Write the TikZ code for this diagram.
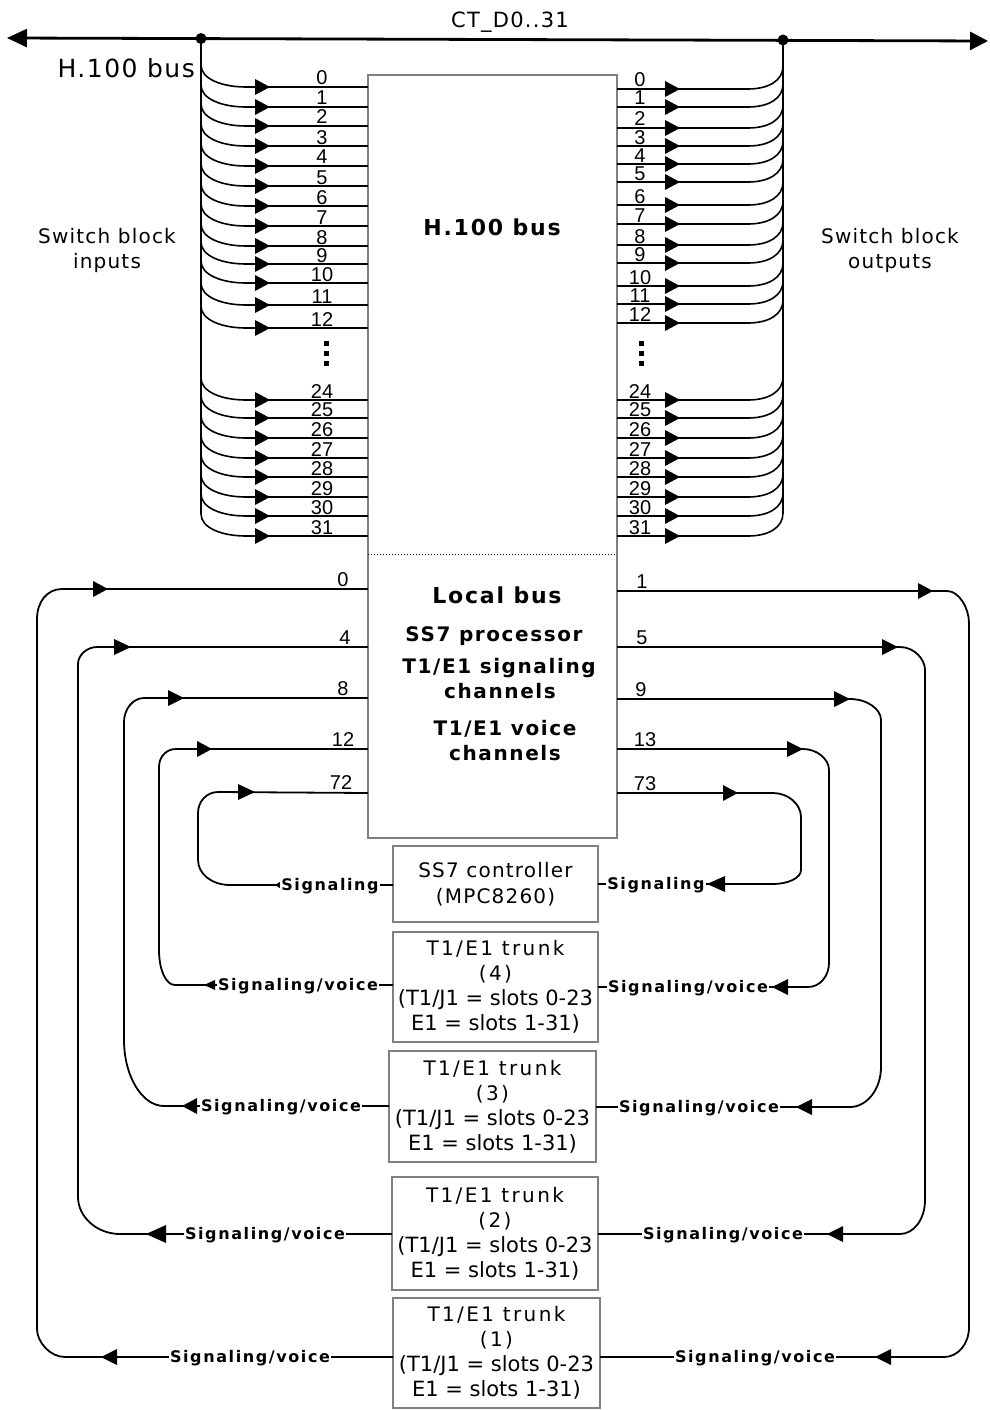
\documentclass[tikz,border=0pt]{standalone}
\usepackage{fontspec}
\setmainfont{DejaVu Sans}
\newfontfamily\spc{DejaVu Sans}[LetterSpace=6]
\newfontfamily\spct{DejaVu Sans}[LetterSpace=12]
\newfontfamily\spcb{DejaVu Sans}[LetterSpace=8]
\newfontfamily\sigf{DejaVu Sans}[LetterSpace=10]
\newfontfamily\plainf{DejaVu Sans}
\newfontfamily\numf{Liberation Sans}
\usetikzlibrary{arrows.meta}
\definecolor{boxgray}{RGB}{128,128,128}
\newcommand\tR[4]{\fill (#1,#2) -- ++(-#3,-#4) -- ++(0,2*#4) -- cycle;}
\newcommand\tL[4]{\fill (#1,#2) -- ++(#3,-#4) -- ++(0,2*#4) -- cycle;}
\newcommand\slots{\plainf\fontsize{21}{25}\selectfont}
\begin{document}
\begin{tikzpicture}[x=1pt,y=-1pt,
  box/.style={draw=boxgray, line width=1.5pt, inner sep=0pt, outer sep=0pt},
  tbox/.style={box, align=center, font=\spct\fontsize{20}{25}\selectfont},
  tline/.style={line width=1.6pt},
  lp/.style={line width=1.8pt},
  num/.style={font=\numf\fontsize{20}{20}\selectfont, inner sep=0pt, anchor=base},
  sig/.style={font=\sigf\bfseries\fontsize{16}{16}\selectfont, fill=white, inner sep=1.5pt, anchor=base},
  lbl/.style={font=\spc\fontsize{20}{24}\selectfont, inner sep=0pt, anchor=base},
  blbl/.style={font=\spcb\bfseries\fontsize{20}{24}\selectfont, inner sep=0pt, anchor=base}
]
\useasboundingbox (0,0) rectangle (989,1410);

% ---- main box
\node[box, minimum width=249, minimum height=763] (hbox) at (492.5,456.5) {};
\draw[dotted, line width=1pt] (hbox.west |- 0,554) -- (hbox.east |- 0,554);

% ---- top bus
\draw[line width=2.8pt, {Triangle[length=20pt,width=18pt]}-{Triangle[length=18pt,width=18pt]}] (7,38) -- (988,41);
\fill (201,38.5) circle (5.5);
\fill (783,40) circle (5.5);
\node[lbl, font=\spc\fontsize{21}{24}\selectfont] (ct) at (510,28) {CT\_D0..31};
\node[lbl, font=\spc\fontsize{25}{26}\selectfont, anchor=base east] (hbus) at (195,78) {H.100 bus};
\draw[line width=2.5pt] (201,38) -- (201,514);
\draw[line width=2.5pt] (783,40) -- (783,513);

% ---- inputs
\foreach \n/\y in {0/87,1/107,2/126,3/146,4/166,5/186,6/206,7/226,8/246,9/264,10/283,11/305,12/328,24/400,25/418,26/438,27/458,28/477,29/497,30/516,31/536} {
  \draw[tline] (201,\y-22) .. controls (201,\y-8) and (222,\y) .. (246,\y) -- (hbox.west |- 0,\y);
  \tR{270}{\y}{15}{8}
  \node[num] at (322,\y-2) {\n};
}
% ---- outputs
\foreach \n/\y in {0/89,1/107,2/128,3/146,4/164,5/182,6/205,7/224,8/245,9/263,10/286,11/304,12/323,24/400,25/418,26/438,27/458,28/477,29/497,30/516,31/536} {
  \draw[tline] (hbox.east |- 0,\y) -- (748,\y) .. controls (768,\y) and (783,\y-8) .. (783,\y-23);
  \tR{680}{\y}{15}{8}
  \node[num] at (640,\y-2) {\n};
}
\foreach \yy in {343,353,363} {
  \fill (323.5,\yy-2.5) rectangle ++(5,5);
  \fill (638.5,\yy-2.5) rectangle ++(5,5);
}

\node[lbl] at (107,243) {Switch block};
\node[lbl] at (107,268) {inputs};
\node[lbl] at (890,243) {Switch block};
\node[lbl] at (890,268) {outputs};

% ---- labels inside main box
\node[blbl, font=\spcb\bfseries\fontsize{22}{24}\selectfont] at (492,235) {H.100 bus};
\node[blbl, font=\spcb\bfseries\fontsize{22}{24}\selectfont] at (497,603) {Local bus};
\node[blbl] at (494,641) {SS7 processor};
\node[blbl] at (499,673) {T1/E1 signaling};
\node[blbl] at (500,698) {channels};
\node[blbl] at (505,735) {T1/E1 voice};
\node[blbl] at (505,760) {channels};

% ---- lower boxes
\node[tbox, font=\spc\fontsize{20}{26}\selectfont, minimum width=205, minimum height=76] (ss7) at (495.5,884) {SS7 controller\\(MPC8260)};
\node[tbox, minimum width=205, minimum height=110] (t4) at (495.5,987) {T1/E1 trunk\\(4)\\{\slots (T1/J1 = slots 0-23}\\{\slots E1 = slots 1-31)}};
\node[tbox, minimum width=207, minimum height=111] (t3) at (492.5,1106.5) {T1/E1 trunk\\(3)\\{\slots (T1/J1 = slots 0-23}\\{\slots E1 = slots 1-31)}};
\node[tbox, minimum width=206, minimum height=113] (t2) at (495,1233.5) {T1/E1 trunk\\(2)\\{\slots (T1/J1 = slots 0-23}\\{\slots E1 = slots 1-31)}};
\node[tbox, minimum width=207, minimum height=110] (t1) at (496.5,1353) {T1/E1 trunk\\(1)\\{\slots (T1/J1 = slots 0-23}\\{\slots E1 = slots 1-31)}};

% ---- left loops
\draw[lp] (t1.west |- 0,1357) -- (65,1357) .. controls (50,1357) and (37,1342) .. (37,1329) -- (37,619) .. controls (37,602) and (47,589) .. (62,589) -- (hbox.west |- 0,589);
\tL{101}{1357}{16}{8} \tR{108}{589}{15}{8}
\node[sig] at (250,1362) {Signaling/voice};
\node[num] at (343,586) {0};

\draw[lp] (t2.west |- 0,1234) -- (120,1234) .. controls (97,1234) and (78,1217) .. (78,1197) -- (78,664) .. controls (78,655) and (87,647) .. (97,647) -- (hbox.west |- 0,647);
\tL{146}{1234}{20}{9} \tR{131}{647}{17}{8}
\node[sig] at (265,1239) {Signaling/voice};
\node[num] at (345,644) {4};

\draw[lp] (t3.west |- 0,1106) -- (164,1106) .. controls (142,1106) and (124,1076) .. (124,1040) -- (124,722) .. controls (124,709) and (133,698) .. (144,698) -- (hbox.west |- 0,698);
\tL{182}{1106}{15}{8} \tR{184}{698}{16}{8}
\node[sig] at (281,1111) {Signaling/voice};
\node[num] at (343,695) {8};

\draw[lp] (t4.west |- 0,985) -- (175,985) .. controls (166,985) and (159,970) .. (159,950) -- (159,767) .. controls (159,757) and (166,749) .. (176,749) -- (hbox.west |- 0,749);
\tL{204}{985}{11}{5} \tR{212}{749}{15}{8}
\node[sig] at (298,990) {Signaling/voice};
\node[num] at (343,746) {12};

\draw[lp] (ss7.west |- 0,885) -- (230,885) .. controls (212,885) and (198,874) .. (198,860) -- (198,813) .. controls (198,801) and (207,792) .. (218,792) -- (hbox.west |- 0,793);
\tL{275}{885}{8}{5} \tR{255}{792}{17}{8}
\node[sig] at (330,890) {Signaling};
\node[num] at (341,789) {72};

% ---- right loops
\draw[lp] (hbox.east |- 0,591) -- (947,591) .. controls (959,591) and (969,608) .. (969,623) -- (969,1327) .. controls (969,1344) and (958,1357) .. (944,1357) -- (t1.east |- 0,1357);
\tR{933}{591}{15}{8} \tL{875}{1357}{16}{8}
\node[sig] at (755,1362) {Signaling/voice};
\node[num] at (642,588) {1};

\draw[lp] (hbox.east |- 0,647) -- (900,647) .. controls (914,647) and (925,659) .. (925,670) -- (925,1200) .. controls (925,1219) and (914,1234) .. (900,1234) -- (t2.east |- 0,1234);
\tR{898}{647}{16}{8} \tL{827}{1234}{16}{8}
\node[sig] at (723,1239) {Signaling/voice};
\node[num] at (642,644) {5};

\draw[lp] (hbox.east |- 0,699) -- (850,699) .. controls (867,699) and (881,709) .. (881,720) -- (881,1067) .. controls (881,1089) and (867,1107) .. (850,1107) -- (t3.east |- 0,1107);
\tR{850}{699}{16}{8} \tL{796}{1107}{16}{8}
\node[sig] at (699,1112) {Signaling/voice};
\node[num] at (641,696) {9};

\draw[lp] (hbox.east |- 0,749) -- (803,749) .. controls (817,749) and (829,759) .. (829,770) -- (829,963) .. controls (829,976) and (820,987) .. (808,987) -- (t4.east |- 0,987);
\tR{803}{749}{16}{8} \tL{772}{987}{16}{8}
\node[sig] at (688,992) {Signaling/voice};
\node[num] at (645,746) {13};

\draw[lp] (hbox.east |- 0,793) -- (773,793) .. controls (788,793) and (801,804) .. (801,817) -- (801,870) .. controls (801,878) and (788,884) .. (773,884) -- (ss7.east |- 0,884);
\tR{738}{793}{15}{8} \tL{707}{884}{18}{8}
\node[sig] at (656,889) {Signaling};
\node[num] at (645,790) {73};
\end{tikzpicture}
\end{document}
